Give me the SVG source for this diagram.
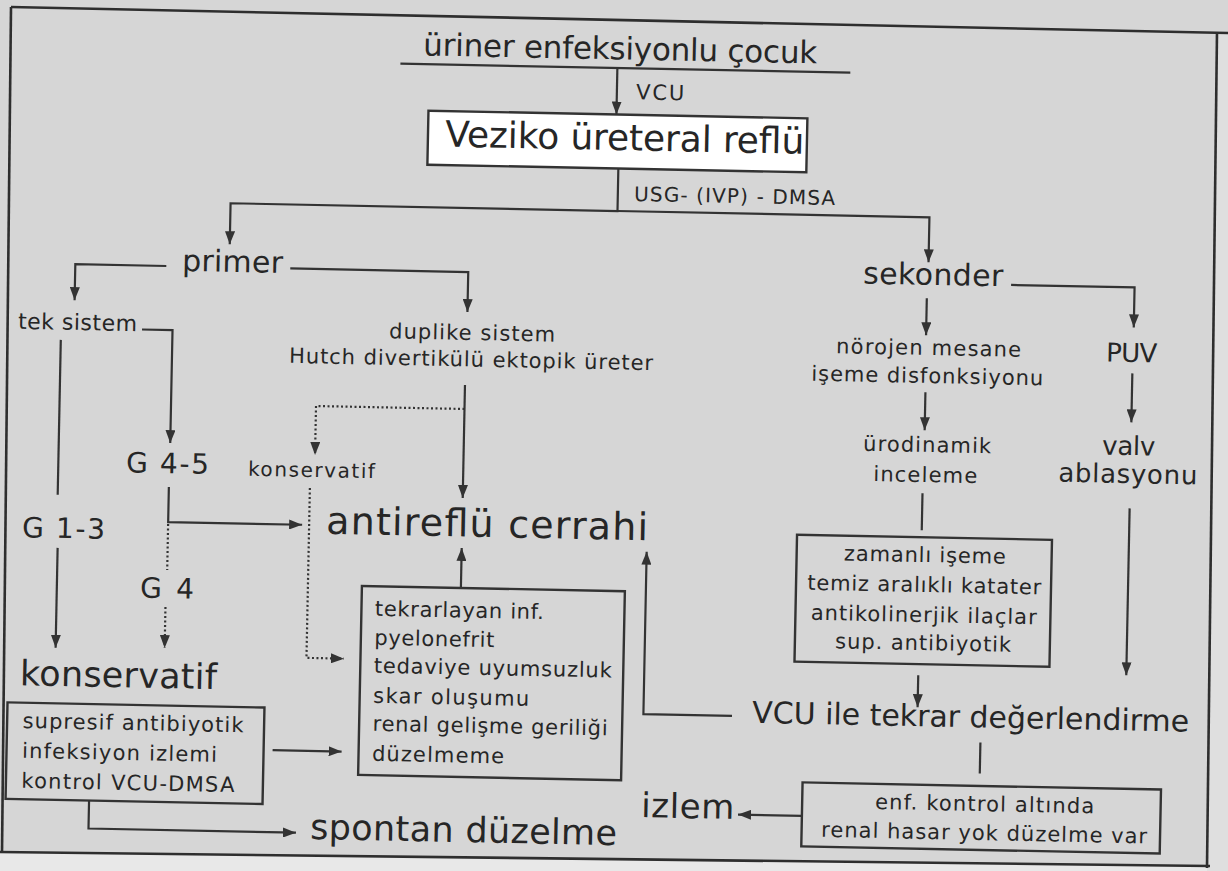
<svg xmlns="http://www.w3.org/2000/svg" width="1228" height="871" viewBox="0 0 1228 871">
<style>
  .t { font-family: "DejaVu Sans", "Liberation Sans", sans-serif; fill: #262626; }
  .ln { fill: none; stroke: #333; stroke-width: 2.2; }
  .dot { fill: none; stroke: #333; stroke-width: 2.2; stroke-dasharray: 2 2.5; }
  .box { fill: none; stroke: #333; stroke-width: 2.4; }
  .frame { fill: none; stroke: #2e2e2e; stroke-width: 2.6; }
</style>
<defs>
  <marker id="ah" viewBox="0 0 13 10" refX="13" refY="5" markerWidth="13" markerHeight="10" markerUnits="userSpaceOnUse" orient="auto">
    <path d="M0,0 L13,5 L0,10 z" fill="#333"/>
  </marker>
</defs>
<rect x="0" y="0" width="1228" height="871" fill="#d6d6d6"/>
<polygon points="0,852 1228,867 1228,871 0,871" fill="#e8e8e8"/>
<polygon points="1217,32 1228,32 1228,871 1207,871" fill="#dfdfdf"/>
<g id="frame">
  <path class="frame" d="M11,7 L1228,33"/>
  <path class="frame" d="M11,7 L2,853"/>
  <path class="frame" d="M0,852 L1210,866"/>
  <path class="frame" d="M1217,32 L1207,868"/>
</g>
<g transform="rotate(1.15 614 435)">
  <g id="connectors">
    <path class="ln" d="M393,68 H843"/>
    <path class="ln" d="M610,68 V114.5" marker-end="url(#ah)"/>
    <path class="ln" d="M613,168.5 V211 H226 V252" marker-end="url(#ah)"/>
    <path class="ln" d="M613,211 H925 V256" marker-end="url(#ah)"/>
    <path class="ln" d="M163,275 H72 V311" marker-end="url(#ah)"/>
    <path class="ln" d="M287,275 H465 V315" marker-end="url(#ah)"/>
    <path class="ln" d="M140,339 H170.5 V452" marker-end="url(#ah)"/>
    <path class="ln" d="M59,351 V506"/>
    <path class="ln" d="M60,559 V659" marker-end="url(#ah)"/>
    <path class="ln" d="M170,496 V531 H304" marker-end="url(#ah)"/>
    <path class="dot" d="M170,533 V579"/>
    <path class="dot" d="M169,616 V657" marker-end="url(#ah)"/>
    <path class="ln" d="M464,388 V501" marker-end="url(#ah)"/>
    <path class="dot" d="M464,412 H315.5 V461" marker-end="url(#ah)"/>
    <path class="dot" d="M311,494 V664 H348.5" marker-end="url(#ah)"/>
    <path class="ln" d="M464,591 V551" marker-end="url(#ah)"/>
    <path class="ln" d="M279,757 H348" marker-end="url(#ah)"/>
    <path class="ln" d="M96.5,811 V839 H304" marker-end="url(#ah)"/>
    <path class="ln" d="M1008,277 H1131.5 V317" marker-end="url(#ah)"/>
    <path class="ln" d="M924,292 V329" marker-end="url(#ah)"/>
    <path class="ln" d="M924.5,386 V424" marker-end="url(#ah)"/>
    <path class="ln" d="M1131,363 V412" marker-end="url(#ah)"/>
    <path class="ln" d="M923.6,487 V524"/>
    <path class="ln" d="M923,669 V701" marker-end="url(#ah)"/>
    <path class="ln" d="M1131,498 V665" marker-end="url(#ah)"/>
    <path class="ln" d="M737.6,713.5 H649 V551" marker-end="url(#ah)"/>
    <path class="ln" d="M986.5,735 V766"/>
    <path class="ln" d="M809.5,812 H745.6" marker-end="url(#ah)"/>
  </g>
  <g id="n-uriner"><text class="t" x="415.5" y="59.4" font-size="31" textLength="394" lengthAdjust="spacing">üriner enfeksiyonlu çocuk</text></g>
  <g id="n-vcu1"><text class="t" x="629.3" y="99" font-size="21" textLength="48" lengthAdjust="spacing">VCU</text></g>
  <g id="n-vur">
    <rect x="422" y="114.5" width="379" height="54" fill="#ffffff" stroke="#333" stroke-width="2.4"/>
    <text class="t" x="439.3" y="150" font-size="36" textLength="359" lengthAdjust="spacing">Veziko üreteral reflü</text>
  </g>
  <g id="n-usg"><text class="t" x="629.4" y="200.6" font-size="20" textLength="201" lengthAdjust="spacing">USG- (IVP) - DMSA</text></g>
  <g id="n-primer"><text class="t" x="178.7" y="279.6" font-size="30" textLength="101" lengthAdjust="spacing">primer</text></g>
  <g id="n-tek"><text class="t" x="15.9" y="340.7" font-size="22" textLength="119" lengthAdjust="spacing">tek sistem</text></g>
  <g id="n-g13"><text class="t" x="24.1" y="549" font-size="28" textLength="83" lengthAdjust="spacing">G 1-3</text></g>
  <g id="n-g45"><text class="t" x="126.8" y="482" font-size="28" textLength="83" lengthAdjust="spacing">G 4-5</text></g>
  <g id="n-g4"><text class="t" x="143.3" y="607" font-size="28" textLength="54" lengthAdjust="spacing">G 4</text></g>
  <g id="n-duplike">
    <text class="t" x="387.1" y="342.8" font-size="21" textLength="166" lengthAdjust="spacing">duplike sistem</text>
    <text class="t" x="287.6" y="369.4" font-size="21" textLength="364" lengthAdjust="spacing">Hutch divertikülü ektopik üreter</text>
  </g>
  <g id="n-kons-small"><text class="t" x="248.8" y="483" font-size="20" textLength="127" lengthAdjust="spacing">konservatif</text></g>
  <g id="n-antireflu"><text class="t" x="328" y="539.5" font-size="38" textLength="322" lengthAdjust="spacing">antireflü cerrahi</text></g>
  <g id="n-tekrar">
    <rect class="box" x="365" y="591" width="263" height="189"/>
    <text class="t" x="378.5" y="620.5" font-size="21" textLength="169" lengthAdjust="spacing">tekrarlayan inf.</text>
    <text class="t" x="378.5" y="649.5" font-size="21" textLength="120" lengthAdjust="spacing">pyelonefrit</text>
    <text class="t" x="378.5" y="677.5" font-size="21" textLength="238" lengthAdjust="spacing">tedaviye uyumsuzluk</text>
    <text class="t" x="378.5" y="707.5" font-size="21" textLength="156" lengthAdjust="spacing">skar oluşumu</text>
    <text class="t" x="378.5" y="735.5" font-size="21" textLength="235" lengthAdjust="spacing">renal gelişme geriliği</text>
    <text class="t" x="378.5" y="765.5" font-size="21" textLength="132" lengthAdjust="spacing">düzelmeme</text>
  </g>
  <g id="n-kons-big"><text class="t" x="25" y="697" font-size="35" textLength="197" lengthAdjust="spacing">konservatif</text></g>
  <g id="n-supresif">
    <rect class="box" x="13" y="714.5" width="257" height="96.5"/>
    <text class="t" x="28.5" y="739.7" font-size="21" textLength="221" lengthAdjust="spacing">supresif antibiyotik</text>
    <text class="t" x="28.5" y="769.7" font-size="21" textLength="195" lengthAdjust="spacing">infeksiyon izlemi</text>
    <text class="t" x="28.5" y="799.7" font-size="21" textLength="213" lengthAdjust="spacing">kontrol VCU-DMSA</text>
  </g>
  <g id="n-spontan"><text class="t" x="318.1" y="845" font-size="35" textLength="307" lengthAdjust="spacing">spontan düzelme</text></g>
  <g id="n-sekonder"><text class="t" x="860" y="278.6" font-size="30" textLength="140" lengthAdjust="spacing">sekonder</text></g>
  <g id="n-norojen">
    <text class="t" x="834.4" y="348.7" font-size="21" textLength="185" lengthAdjust="spacing">nörojen mesane</text>
    <text class="t" x="810" y="376.7" font-size="21" textLength="232" lengthAdjust="spacing">işeme disfonksiyonu</text>
  </g>
  <g id="n-puv"><text class="t" x="1104.5" y="351.6" font-size="26" textLength="51" lengthAdjust="spacing">PUV</text></g>
  <g id="n-urodinamik">
    <text class="t" x="863.3" y="445.7" font-size="21" textLength="128" lengthAdjust="spacing">ürodinamik</text>
    <text class="t" x="874" y="475.8" font-size="21" textLength="104" lengthAdjust="spacing">inceleme</text>
  </g>
  <g id="n-valv">
    <text class="t" x="1102.4" y="444.7" font-size="26" textLength="53" lengthAdjust="spacing">valv</text>
    <text class="t" x="1059" y="472.7" font-size="26" textLength="139" lengthAdjust="spacing">ablasyonu</text>
  </g>
  <g id="n-zamanli">
    <rect class="box" x="799" y="531" width="255" height="127"/>
    <text class="t" x="846.3" y="555.8" font-size="21" textLength="162" lengthAdjust="spacing">zamanlı işeme</text>
    <text class="t" x="810.3" y="585.8" font-size="21" textLength="234" lengthAdjust="spacing">temiz aralıklı katater</text>
    <text class="t" x="814.3" y="615.8" font-size="21" textLength="226" lengthAdjust="spacing">antikolinerjik ilaçlar</text>
    <text class="t" x="839.3" y="643.8" font-size="21" textLength="176" lengthAdjust="spacing">sup. antibiyotik</text>
  </g>
  <g id="n-vcuile"><text class="t" x="757.8" y="720" font-size="30" textLength="437" lengthAdjust="spacing">VCU ile tekrar değerlendirme</text></g>
  <g id="n-enf">
    <rect class="box" x="809.5" y="778.5" width="358.5" height="64"/>
    <text class="t" x="882.5" y="803.6" font-size="21" textLength="219" lengthAdjust="spacing">enf. kontrol altında</text>
    <text class="t" x="829.1" y="832.6" font-size="21" textLength="326" lengthAdjust="spacing">renal hasar yok düzelme var</text>
  </g>
  <g id="n-izlem"><text class="t" x="648.7" y="816.5" font-size="34" textLength="93" lengthAdjust="spacing">izlem</text></g>
</g>
</svg>
